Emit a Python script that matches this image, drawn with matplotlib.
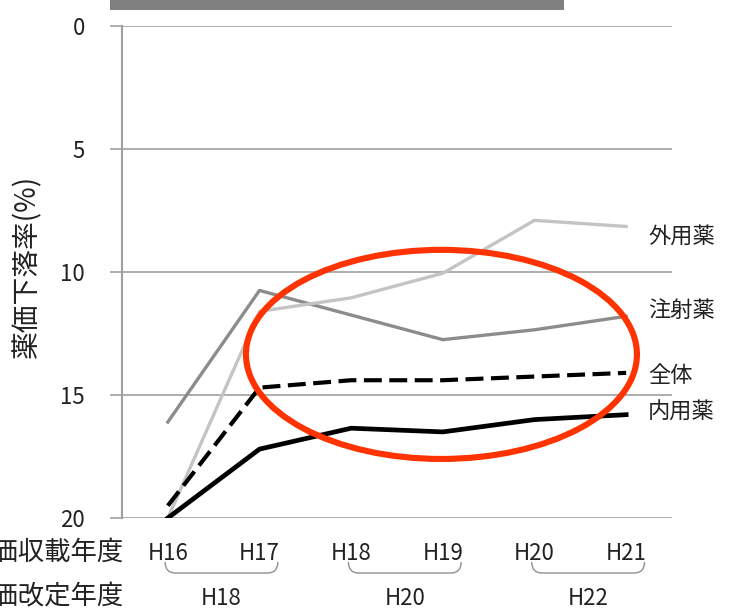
import matplotlib
matplotlib.use("Agg")
import matplotlib.pyplot as plt
from matplotlib.patches import Ellipse, Rectangle, PathPatch
from matplotlib.path import Path
import matplotlib.transforms as mtransforms

plt.rcParams['font.family'] = ['Noto Sans CJK JP', 'DejaVu Sans']

# 薬価下落率の推移（収載年度別）
years = ['H16', 'H17', 'H18', 'H19', 'H20', 'H21']
gaiyou = [20.0, 11.6, 11.05, 10.05, 7.9, 8.15]     # 外用薬
chusha = [16.1, 10.75, 11.75, 12.75, 12.35, 11.8]  # 注射薬
zentai = [19.5, 14.7, 14.4, 14.4, 14.25, 14.1]     # 全体
naiyou = [20.0, 17.2, 16.35, 16.5, 16.0, 15.8]     # 内用薬

revisions = ['H18', 'H20', 'H22']
yticks = [0, 5, 10, 15, 20]

grid_c = '#a0a0a0'
text_c = '#222222'

fig = plt.figure(figsize=(7.29, 6.09), dpi=100)
ax = fig.add_axes([122 / 729, 91 / 609, 550 / 729, 492 / 609])

x = list(range(len(years)))
ax.plot(x, chusha, color='#8c8c8c', lw=2.4, zorder=3)
ax.plot(x, gaiyou, color='#c4c4c4', lw=2.4, zorder=3)
ax.plot(x, naiyou, color='black', lw=3.4, zorder=4)
ax.plot(x, zentai, color='black', lw=3.0, dashes=(4.3, 1.8), zorder=4)

ax.set_xlim(-0.5, len(years) - 0.5)
ax.set_ylim(20, 0)
ax.set_yticks(yticks)
ax.set_xticks(x)
ax.set_xticklabels(years)

ax.grid(axis='y', color=grid_c, lw=1.2)
ax.set_axisbelow(True)
for s in ['top', 'right', 'bottom']:
    ax.spines[s].set_visible(False)
ax.spines['left'].set_color(grid_c)
ax.spines['left'].set_linewidth(1.5)

ax.tick_params(axis='y', length=8.6, width=1.2, color=grid_c, pad=18,
               labelsize=16, labelcolor=text_c)
ax.tick_params(axis='x', length=0, pad=17, labelsize=16, labelcolor=text_c)

ax.set_ylabel('薬価下落率(%)', fontsize=20, color=text_c)
ax.yaxis.set_label_coords(-0.1455, 0.512)

# 系列名（線の右端）
label_kw = dict(fontsize=16, color=text_c, va='center', ha='left')
ax.text(5.24, gaiyou[-1] + 0.4, '外用薬', **label_kw)
ax.text(5.24, chusha[-1] - 0.25, '注射薬', **label_kw)
ax.text(5.24, zentai[-1] + 0.1, '全体', **label_kw)
ax.text(5.24, naiyou[-1] - 0.1, '内用薬', **label_kw)

# 強調の楕円
ax.add_patch(Ellipse((2.985, 13.35), 4.265, 8.5, fill=False,
                     edgecolor='#ff3300', lw=4.4, zorder=5, clip_on=False))

# 下段：収載年度と改定年度の対応
trans = mtransforms.blended_transform_factory(ax.transData, ax.transAxes)
top, bot, r = -0.0894, -0.1118, 0.11
for i, rev in enumerate(revisions):
    x0 = 2 * i - 0.03
    x1 = 2 * i + 1.2
    verts = [(x0, top), (x0, bot), (x0 + r, bot),
             (x1 - r, bot), (x1, bot), (x1, top)]
    codes = [Path.MOVETO, Path.CURVE3, Path.CURVE3,
             Path.LINETO, Path.CURVE3, Path.CURVE3]
    ax.add_patch(PathPatch(Path(verts, codes), transform=trans, fill=False,
                           edgecolor='#909090', lw=1.0, clip_on=False))
    ax.text((x0 + x1) / 2, -0.177, rev, transform=trans, fontsize=16,
            color=text_c, ha='center', va='baseline')

fig.text(123 / 729, 1 - 560 / 609, '薬価収載年度', fontsize=19,
         color=text_c, ha='right', va='baseline')
fig.text(123 / 729, 1 - 604 / 609, '薬価改定年度', fontsize=19,
         color=text_c, ha='right', va='baseline')

# 上端の灰色の帯
fig.patches.append(Rectangle((110 / 729, 1 - 10 / 609), 454 / 729, 10 / 609,
                             transform=fig.transFigure, facecolor='#808080',
                             edgecolor='none'))

fig.savefig('out.png', dpi=100)
